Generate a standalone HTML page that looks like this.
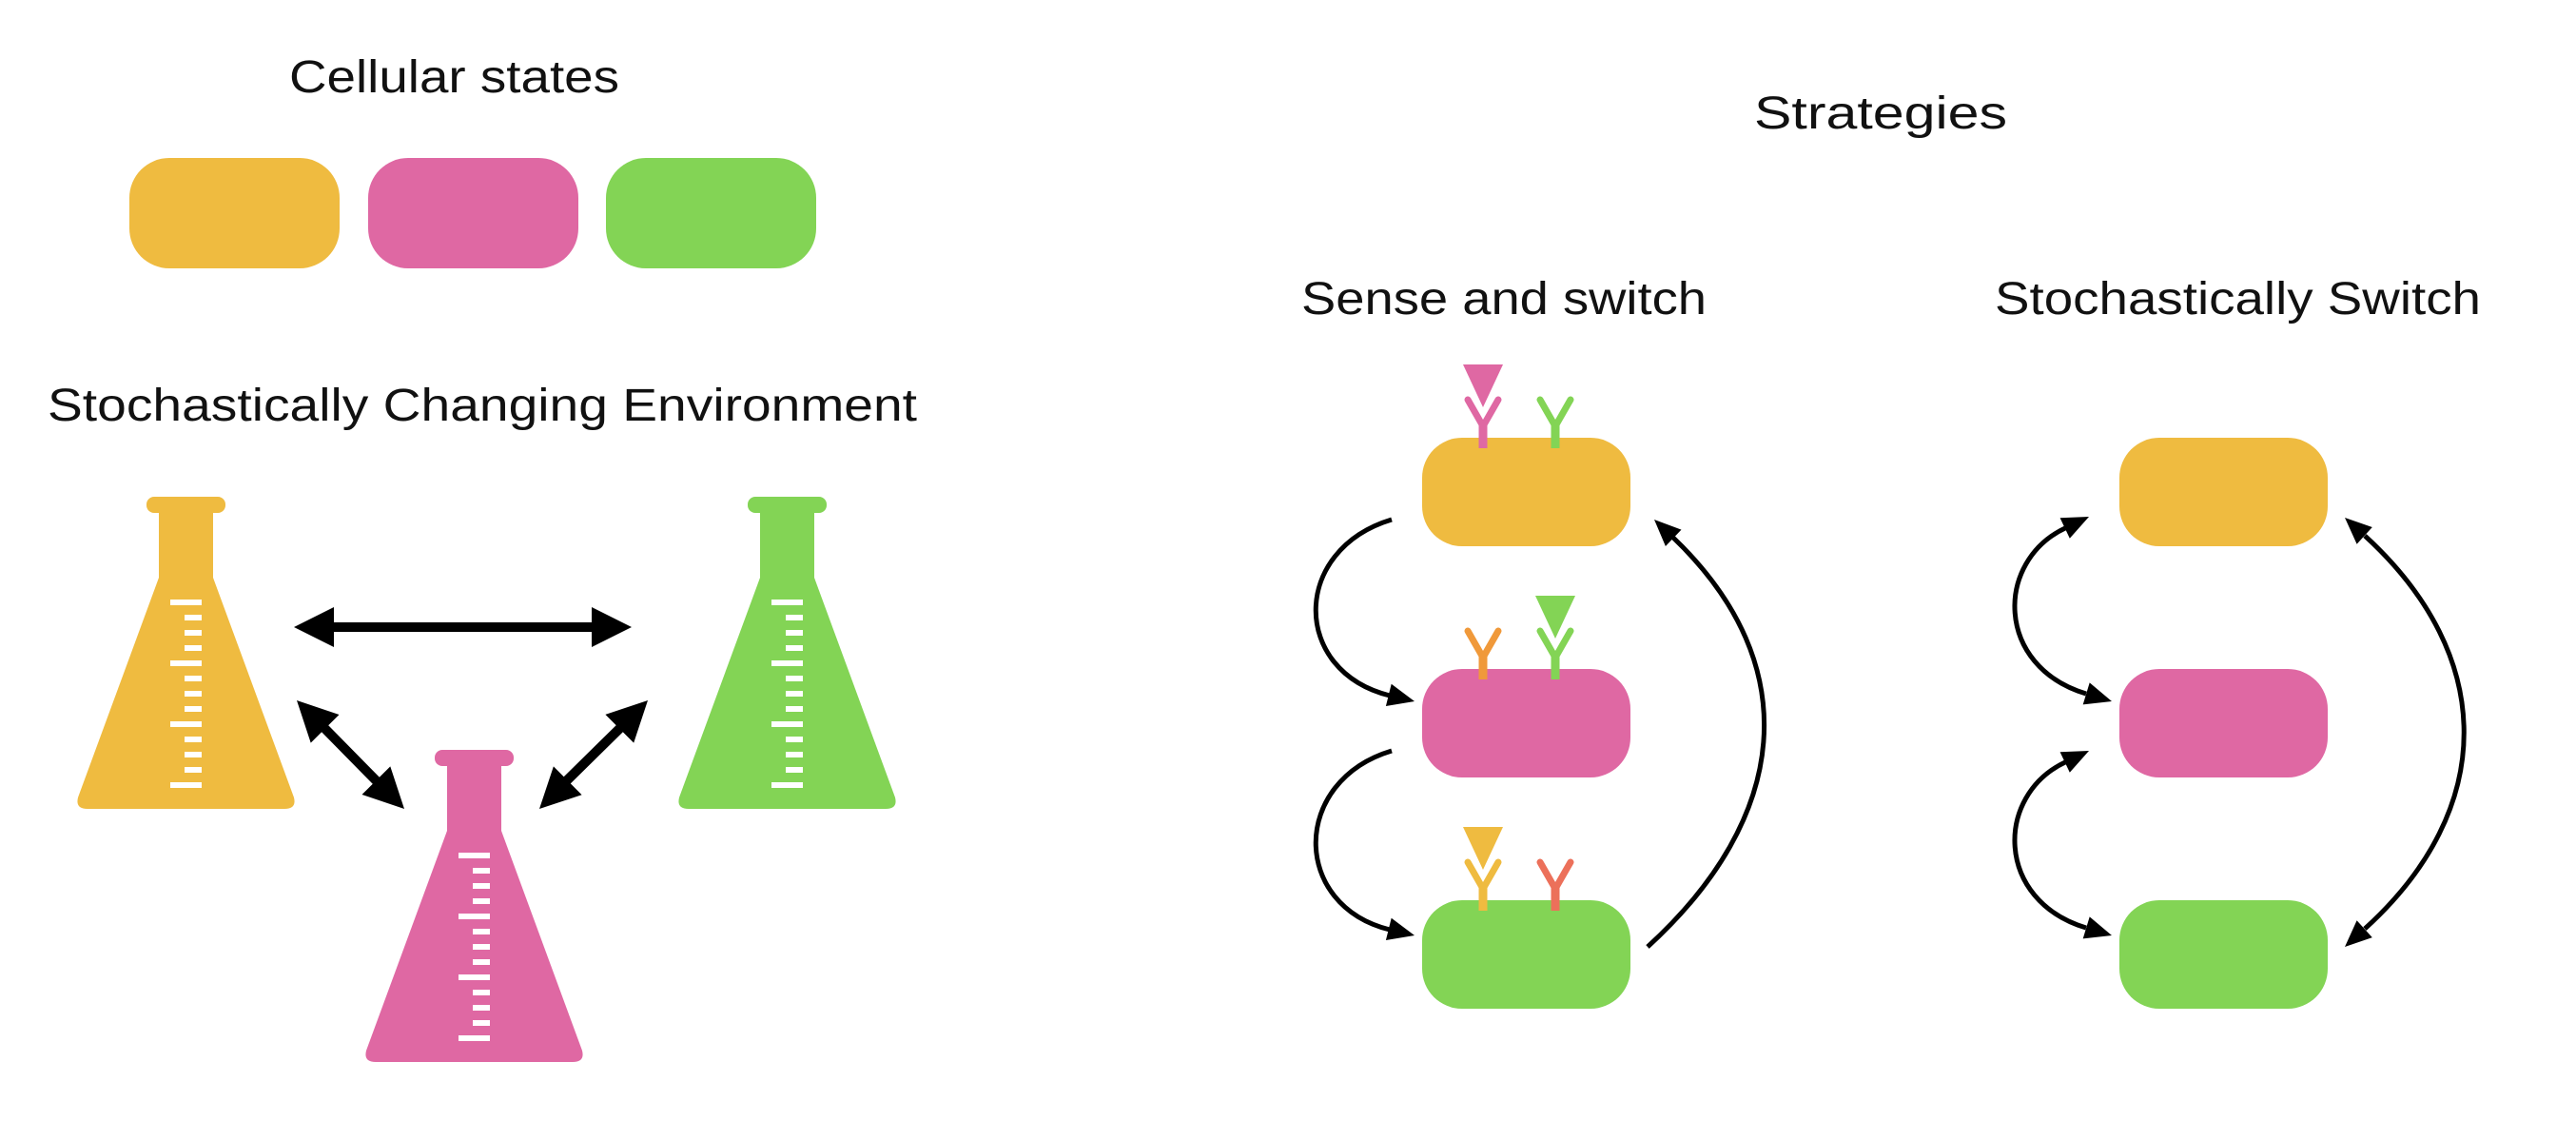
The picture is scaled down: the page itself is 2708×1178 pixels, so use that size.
<!DOCTYPE html>
<html><head><meta charset="utf-8"><style>html,body{margin:0;padding:0;background:#fff}svg{display:block}</style></head>
<body>
<svg width="2708" height="1178" viewBox="0 0 2708 1178" xmlns="http://www.w3.org/2000/svg">
<defs>
<g id="flask">
<rect x="154" y="522" width="83" height="17" rx="8"/>
<rect x="167" y="530" width="57" height="80"/>
<path d="M167,607 L82,838 Q79,850 92,850 L299,850 Q312,850 309,838 L224,607 z"/>
<g fill="#fff">
<rect x="179" y="630" width="33" height="6"/><rect x="194" y="646" width="18" height="6"/><rect x="194" y="662" width="18" height="6"/><rect x="194" y="678" width="18" height="6"/>
<rect x="179" y="694" width="33" height="6"/><rect x="194" y="710" width="18" height="6"/><rect x="194" y="726" width="18" height="6"/><rect x="194" y="742" width="18" height="6"/>
<rect x="179" y="758" width="33" height="6"/><rect x="194" y="774" width="18" height="6"/><rect x="194" y="790" width="18" height="6"/><rect x="194" y="806" width="18" height="6"/>
<rect x="179" y="822" width="33" height="6"/>
</g>
</g>
<g id="rec"><path d="M-16,-40 L0,-12 L16,-40" fill="none" stroke-width="7" stroke-linecap="round"/><path d="M0,-14 L0,11" fill="none" stroke-width="9"/></g>
</defs>

<g font-family="Liberation Sans, sans-serif" font-size="48" fill="#111">
<text x="304" y="97" textLength="347" lengthAdjust="spacingAndGlyphs">Cellular states</text>
<text x="50" y="442" textLength="914" lengthAdjust="spacingAndGlyphs">Stochastically Changing Environment</text>
<text x="1844" y="135" textLength="266" lengthAdjust="spacingAndGlyphs">Strategies</text>
<text x="1368" y="330" textLength="426" lengthAdjust="spacingAndGlyphs">Sense and switch</text>
<text x="2097" y="330" textLength="511" lengthAdjust="spacingAndGlyphs">Stochastically Switch</text>
</g>

<!-- top cells -->
<rect x="136" y="166" width="221" height="116" rx="42" fill="#efbb40"/>
<rect x="387" y="166" width="221" height="116" rx="42" fill="#df68a3"/>
<rect x="637" y="166" width="221" height="116" rx="42" fill="#83d455"/>

<!-- flasks -->
<use href="#flask" fill="#efbb40"/>
<use href="#flask" fill="#df68a3" transform="translate(303,266)"/>
<use href="#flask" fill="#83d455" transform="translate(632,0)"/>

<g stroke="#000" stroke-width="10" fill="none">
<line x1="345" y1="659" x2="628" y2="659"/>
<line x1="337" y1="761" x2="400" y2="825"/>
<line x1="655" y1="762" x2="592" y2="824"/>
</g>
<g fill="#000">
<polygon points="309,659 351,638 351,680"/>
<polygon points="664,659 622,638 622,680"/>
<polygon points="425,850 380.5,835 410.3,805.4"/>
<polygon points="312,736 326.7,780.6 356.5,751"/>
<polygon points="567,850 581.9,805.4 611.6,835.2"/>
<polygon points="681,736 636.4,750.9 666.2,780.6"/>
</g>

<!-- sense and switch cells -->
<rect x="1495" y="460" width="219" height="114" rx="42" fill="#efbb40"/>
<rect x="1495" y="703" width="219" height="114" rx="42" fill="#df68a3"/>
<rect x="1495" y="946" width="219" height="114" rx="42" fill="#83d455"/>

<use href="#rec" stroke="#df68a3" transform="translate(1559,460)"/>
<use href="#rec" stroke="#83d455" transform="translate(1635,460)"/>
<path d="M1538,383 L1580,383 L1559,428 z" fill="#df68a3"/>
<use href="#rec" stroke="#f0993a" transform="translate(1559,703)"/>
<use href="#rec" stroke="#83d455" transform="translate(1635,703)"/>
<path d="M1614,626 L1656,626 L1635,671 z" fill="#83d455"/>
<use href="#rec" stroke="#efbb40" transform="translate(1559,946)"/>
<use href="#rec" stroke="#ec705a" transform="translate(1635,946)"/>
<path d="M1538,869 L1580,869 L1559,914 z" fill="#efbb40"/>

<g stroke="#000" stroke-width="5" fill="none">
<path d="M1463,546 C1357,578 1357,705 1461,731"/>
<path d="M1463,789 C1357,821 1357,951 1461,977"/>
<path d="M1732,995 C1880,860 1900,700 1759,565"/>
</g>
<g fill="#000">
<polygon points="1487,737 1456.9,742 1462.7,718.7"/>
<polygon points="1487,983 1456.9,988 1462.7,964.7"/>
<polygon points="1739,546 1767.5,556.6 1750.9,574"/>
</g>

<!-- stochastic switch cells -->
<rect x="2228" y="460" width="219" height="114" rx="42" fill="#efbb40"/>
<rect x="2228" y="703" width="219" height="114" rx="42" fill="#df68a3"/>
<rect x="2228" y="946" width="219" height="114" rx="42" fill="#83d455"/>

<g stroke="#000" stroke-width="5" fill="none">
<path d="M2171,555 C2097,590 2097,700 2193,729"/>
<path d="M2171,801 C2097,836 2097,946 2193,975"/>
<path d="M2486,563 C2625,690 2625,850 2486,976"/>
</g>
<g fill="#000">
<polygon points="2196,543 2175.8,565.8 2165.6,544.2"/>
<polygon points="2220,737 2189.7,740.4 2196.7,717.4"/>
<polygon points="2196,789 2175.8,811.8 2165.6,790.2"/>
<polygon points="2220,983 2189.7,986.4 2196.7,963.4"/>
<polygon points="2465,544 2493.8,554 2477.6,571.8"/>
<polygon points="2465,995 2477.6,967.3 2493.8,985.1"/>
</g>
</svg>
</body></html>
